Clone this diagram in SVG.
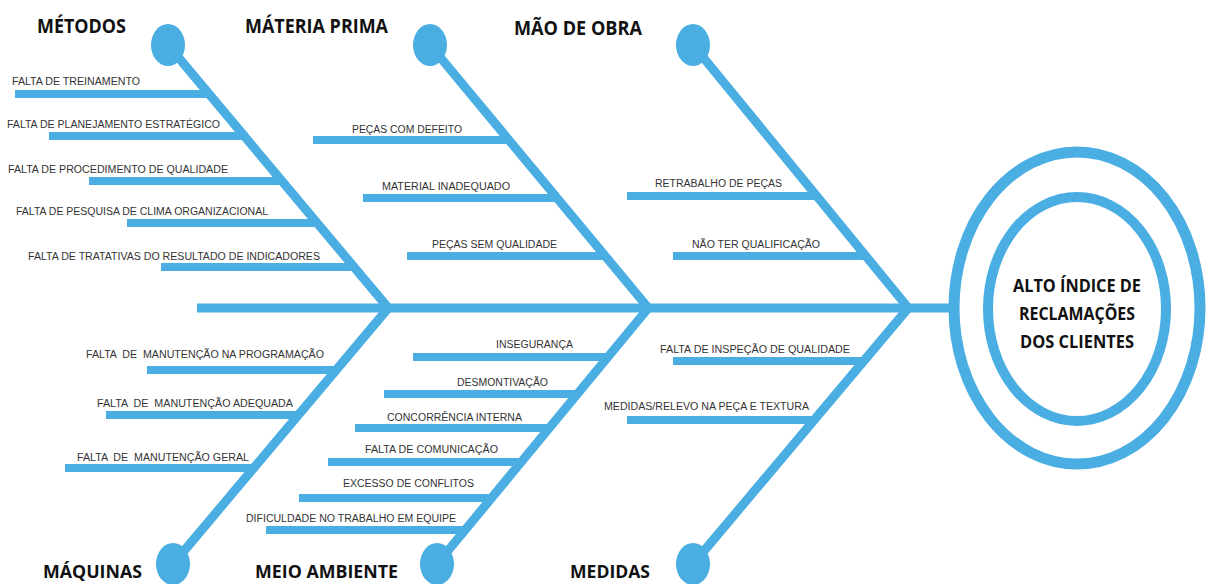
<svg xmlns="http://www.w3.org/2000/svg" width="1206" height="584" viewBox="0 0 1206 584">
<style>
.b{stroke:#4aaee3;stroke-width:9;fill:none;stroke-linecap:butt}
.s{stroke:#4aaee3;stroke-width:8;fill:none}
.h{fill:#4aaee3}
.t{font-family:"Liberation Sans",Arial,sans-serif;font-size:10px;fill:#333}
.c{font-family:"Open Sans","Liberation Sans",sans-serif;font-size:19px;font-weight:bold;fill:#111}
.d{font-family:"Open Sans","Liberation Sans",sans-serif;font-size:18px;font-weight:bold;fill:#111}
.m{font-family:"Open Sans","Liberation Sans",sans-serif;font-size:18px;font-weight:bold;fill:#111;text-anchor:middle}
</style>
<rect width="1206" height="584" fill="#fff"/>
<g id="connectors">
<line class="b" x1="197" y1="308" x2="952" y2="308"/>
<line class="b" x1="168" y1="45" x2="390" y2="310"/>
<line class="b" x1="430" y1="45" x2="650" y2="310"/>
<line class="b" x1="693" y1="45" x2="910" y2="310"/>
<line class="b" x1="390" y1="306" x2="173" y2="564"/>
<line class="b" x1="650" y1="306" x2="437" y2="564"/>
<line class="b" x1="910" y1="306" x2="693" y2="564"/>
</g>
<g id="metodos">
<ellipse class="h" cx="168" cy="45" rx="17" ry="21"/>
<text class="c" x="37" y="33" textLength="89" lengthAdjust="spacingAndGlyphs">MÉTODOS</text>
<line class="s" x1="15" y1="94" x2="210" y2="94"/>
<text class="t" x="12" y="85" textLength="128" lengthAdjust="spacingAndGlyphs">FALTA DE TREINAMENTO</text>
<line class="s" x1="49" y1="136" x2="245" y2="136"/>
<text class="t" x="7" y="128" textLength="213" lengthAdjust="spacingAndGlyphs">FALTA DE PLANEJAMENTO ESTRATÉGICO</text>
<line class="s" x1="89" y1="181" x2="283" y2="181"/>
<text class="t" x="8" y="173" textLength="220" lengthAdjust="spacingAndGlyphs">FALTA DE PROCEDIMENTO DE QUALIDADE</text>
<line class="s" x1="127" y1="223" x2="318" y2="223"/>
<text class="t" x="16" y="215" textLength="252" lengthAdjust="spacingAndGlyphs">FALTA DE PESQUISA DE CLIMA ORGANIZACIONAL</text>
<line class="s" x1="161" y1="267" x2="355" y2="267"/>
<text class="t" x="28" y="260" textLength="292" lengthAdjust="spacingAndGlyphs">FALTA DE TRATATIVAS DO RESULTADO DE INDICADORES</text>
</g>
<g id="materia-prima">
<ellipse class="h" cx="430" cy="45" rx="17" ry="21"/>
<text class="c" x="245" y="33" textLength="143" lengthAdjust="spacingAndGlyphs">MÁTERIA PRIMA</text>
<line class="s" x1="313" y1="140" x2="510" y2="140"/>
<text class="t" x="352" y="133" textLength="110" lengthAdjust="spacingAndGlyphs">PEÇAS COM DEFEITO</text>
<line class="s" x1="363" y1="198" x2="558" y2="198"/>
<text class="t" x="382" y="190" textLength="128" lengthAdjust="spacingAndGlyphs">MATERIAL INADEQUADO</text>
<line class="s" x1="407" y1="256" x2="606" y2="256"/>
<text class="t" x="432" y="248" textLength="125" lengthAdjust="spacingAndGlyphs">PEÇAS SEM QUALIDADE</text>
</g>
<g id="mao-de-obra">
<ellipse class="h" cx="693" cy="45" rx="17" ry="21"/>
<text class="c" x="514" y="35" textLength="128" lengthAdjust="spacingAndGlyphs">MÃO DE OBRA</text>
<line class="s" x1="627" y1="196" x2="817" y2="196"/>
<text class="t" x="655" y="187" textLength="127" lengthAdjust="spacingAndGlyphs">RETRABALHO DE PEÇAS</text>
<line class="s" x1="673" y1="256" x2="866" y2="256"/>
<text class="t" x="692" y="248" textLength="128" lengthAdjust="spacingAndGlyphs">NÃO TER QUALIFICAÇÃO</text>
</g>
<g id="maquinas">
<ellipse class="h" cx="173" cy="564" rx="17" ry="21"/>
<text class="d" x="43" y="578" textLength="99" lengthAdjust="spacingAndGlyphs">MÁQUINAS</text>
<line class="s" x1="147" y1="370" x2="337" y2="370"/>
<text class="t" x="86" y="358" textLength="238" lengthAdjust="spacingAndGlyphs" xml:space="preserve">FALTA  DE  MANUTENÇÃO NA PROGRAMAÇÃO</text>
<line class="s" x1="106" y1="415" x2="299" y2="415"/>
<text class="t" x="97" y="407" textLength="196" lengthAdjust="spacingAndGlyphs" xml:space="preserve">FALTA  DE  MANUTENÇÃO ADEQUADA</text>
<line class="s" x1="65" y1="468" x2="255" y2="468"/>
<text class="t" x="77" y="461" textLength="172" lengthAdjust="spacingAndGlyphs" xml:space="preserve">FALTA  DE  MANUTENÇÃO GERAL</text>
</g>
<g id="meio-ambiente">
<ellipse class="h" cx="437" cy="564" rx="17" ry="21"/>
<text class="d" x="255" y="578" textLength="143" lengthAdjust="spacingAndGlyphs">MEIO AMBIENTE</text>
<line class="s" x1="413" y1="357" x2="609" y2="357"/>
<text class="t" x="496" y="348" textLength="77" lengthAdjust="spacingAndGlyphs">INSEGURANÇA</text>
<line class="s" x1="384" y1="394" x2="578" y2="394"/>
<text class="t" x="457" y="386" textLength="91" lengthAdjust="spacingAndGlyphs">DESMONTIVAÇÃO</text>
<line class="s" x1="355" y1="428" x2="550" y2="428"/>
<text class="t" x="387" y="421" textLength="135" lengthAdjust="spacingAndGlyphs">CONCORRÊNCIA INTERNA</text>
<line class="s" x1="328" y1="462" x2="522" y2="462"/>
<text class="t" x="365" y="453" textLength="133" lengthAdjust="spacingAndGlyphs">FALTA DE COMUNICAÇÃO</text>
<line class="s" x1="299" y1="498" x2="492" y2="498"/>
<text class="t" x="343" y="487" textLength="131" lengthAdjust="spacingAndGlyphs">EXCESSO DE CONFLITOS</text>
<line class="s" x1="266" y1="530" x2="466" y2="530"/>
<text class="t" x="246" y="522" textLength="210" lengthAdjust="spacingAndGlyphs">DIFICULDADE NO TRABALHO EM EQUIPE</text>
</g>
<g id="medidas">
<ellipse class="h" cx="693" cy="564" rx="17" ry="21"/>
<text class="d" x="570" y="578" textLength="80" lengthAdjust="spacingAndGlyphs">MEDIDAS</text>
<line class="s" x1="673" y1="361" x2="864" y2="361"/>
<text class="t" x="660" y="353" textLength="190" lengthAdjust="spacingAndGlyphs">FALTA DE INSPEÇÃO DE QUALIDADE</text>
<line class="s" x1="627" y1="420" x2="815" y2="420"/>
<text class="t" x="604" y="410" textLength="205" lengthAdjust="spacingAndGlyphs">MEDIDAS/RELEVO NA PEÇA E TEXTURA</text>
</g>
<g id="problema">
<ellipse cx="1077" cy="308" rx="123" ry="156" fill="none" stroke="#4aaee3" stroke-width="11"/>
<ellipse cx="1077" cy="309" rx="89" ry="112" fill="none" stroke="#4aaee3" stroke-width="10"/>
<text class="m" x="1077" y="292" textLength="128" lengthAdjust="spacingAndGlyphs">ALTO ÍNDICE DE</text>
<text class="m" x="1077" y="320" textLength="116" lengthAdjust="spacingAndGlyphs">RECLAMAÇÕES</text>
<text class="m" x="1077" y="348" textLength="114" lengthAdjust="spacingAndGlyphs">DOS CLIENTES</text>
</g>
</svg>
